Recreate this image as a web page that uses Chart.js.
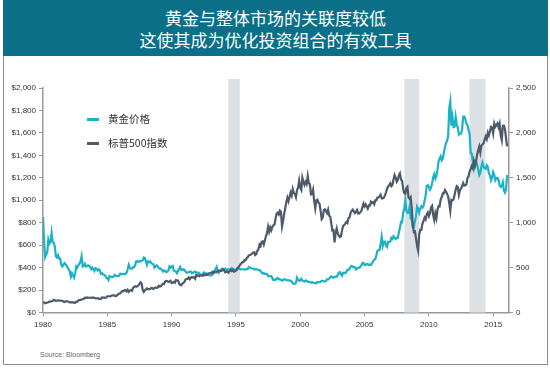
<!DOCTYPE html>
<html>
<head>
<meta charset="utf-8">
<script src="https://cdn.jsdelivr.net/npm/chart.js@4"></script>
<style>
  html, body { margin: 0; padding: 0; background: #fff; }
  body { width: 550px; height: 371px; position: relative; overflow: hidden; }
  #frame { position: absolute; left: 3px; top: 0; height: 365px; border: 1px solid #8c8c8c; box-sizing: border-box; width: 545px; }
  #banner { position: absolute; left: 3px; top: 0; width: 545px; height: 56px; background: #0c6f88; color: #fff;
            font-family: "Noto Sans CJK SC", sans-serif; font-size: 17px; line-height: 22px; text-align: center; padding-top: 7px; box-sizing: border-box; }
  #chartWrap { position: absolute; left: 0; top: 60px; width: 550px; height: 275px; }
  .leg { position: absolute; font-family: "Noto Sans CJK SC", sans-serif; font-size: 10.5px; color: #333; line-height: 14px; }
  .mark { position: absolute; width: 12px; height: 3px; }
  #source { position: absolute; left: 40px; top: 351px; font-family: "Liberation Sans", Arial, sans-serif; font-size: 7px; color: #666; }
</style>
</head>
<body>
<div id="frame"></div>
<div id="banner">黄金与整体市场的关联度较低<br>这使其成为优化投资组合的有效工具</div>
<div id="chartWrap"><canvas id="c" width="550" height="275"></canvas></div>
<div class="mark" style="left:87px;top:117.5px;background:#1bb2c6;"></div>
<div class="leg" style="left:108px;top:112px;">黄金价格</div>
<div class="mark" style="left:87px;top:141.5px;background:#4d5a6b;"></div>
<div class="leg" style="left:108px;top:136px;">标普500指数</div>
<div id="source">Source: Bloomberg</div>
<script>
// Monthly series starting January 1980
const startYear = 1980;
const seriesNames = ["黄金价格", "标普500指数"];
const goldPrice = [
  850,640,494,517,540,650,615,630,710,630,620,590,
  500,490,510,480,480,425,410,425,440,430,415,400,
  385,365,320,350,330,310,345,410,400,420,435,455,
  500,410,415,435,410,415,420,415,405,385,400,385,
  370,395,390,375,385,375,345,350,340,335,330,310,
  305,290,325,320,315,315,325,335,325,325,325,327,
  345,340,345,345,340,345,355,385,425,400,390,390,
  405,405,420,455,455,450,460,455,460,465,490,485,
  455,425,455,450,455,440,435,430,400,410,420,410,
  395,390,390,378,365,375,370,360,365,375,410,400,
  410,415,375,368,365,350,370,390,405,380,380,385,
  380,365,355,355,360,365,365,350,355,360,365,355,
  355,355,345,338,335,340,355,340,350,340,335,333,
  330,330,335,355,375,385,405,375,355,370,375,390,
  380,380,390,375,385,385,385,385,395,390,385,380,
  375,378,392,390,385,387,385,383,384,383,387,387,
  405,400,396,393,392,385,385,387,383,381,378,369,
  355,346,352,344,345,341,324,324,323,325,306,289,
  289,297,296,308,299,292,293,284,289,296,294,291,
  287,287,286,282,276,261,256,257,265,311,293,283,
  285,300,286,280,275,286,281,274,273,270,266,272,
  266,262,263,261,272,270,268,273,283,283,276,276,
  281,296,294,302,314,321,313,310,319,317,319,333,
  356,359,340,328,355,356,351,360,379,379,389,407,
  414,405,406,404,384,392,398,400,406,420,439,442,
  424,423,434,429,422,430,424,437,456,470,476,510,
  550,555,557,610,675,596,633,632,598,585,628,629,
  631,665,655,680,667,655,665,665,713,754,806,803,
  889,922,1000,909,888,890,939,839,829,760,760,816,
  858,943,924,890,928,946,934,949,996,1043,1127,1134,
  1118,1095,1113,1148,1205,1233,1193,1215,1271,1343,1370,1391,
  1356,1372,1424,1473,1510,1529,1572,1820,1880,1665,1739,1652,
  1656,1742,1673,1650,1585,1596,1594,1630,1745,1747,1722,1684,
  1671,1627,1593,1420,1414,1343,1287,1348,1349,1316,1275,1225,
  1244,1300,1336,1299,1287,1279,1311,1296,1239,1222,1176,1200,
  1250,1227,1179,1198,1199,1181,1131,1118,1125,1159,1086,1068,
  1097,1225
];
const sp500 = [
  114,114,102,106,111,114,122,122,125,127,141,136,
  130,131,136,133,133,131,131,123,116,122,126,123,
  120,113,112,116,112,110,107,120,120,134,139,141,
  145,148,153,164,162,168,163,164,166,164,166,165,
  163,157,159,160,151,153,151,167,166,166,164,167,
  180,181,181,180,190,192,191,188,182,190,202,211,
  212,227,239,236,247,251,236,253,231,244,249,242,
  274,284,292,288,290,304,319,336,322,252,230,247,
  257,268,259,261,262,274,272,262,272,279,274,278,
  297,289,295,310,321,318,346,351,349,340,346,353,
  329,332,340,331,361,358,356,323,306,304,322,330,
  344,367,375,375,390,371,388,395,388,392,375,417,
  409,413,404,415,415,408,424,414,418,419,431,436,
  439,443,452,440,450,451,448,464,459,468,462,466,
  482,467,446,451,457,444,458,475,463,472,454,459,
  470,487,501,515,533,545,562,562,584,582,605,616,
  636,640,645,654,669,671,640,652,687,705,757,741,
  786,791,757,801,848,885,954,899,947,915,955,970,
  980,1049,1102,1112,1091,1134,1121,957,1017,1099,1164,1229,
  1280,1238,1286,1335,1302,1373,1329,1320,1283,1363,1389,1469,
  1394,1366,1499,1452,1421,1455,1431,1518,1437,1429,1315,1320,
  1366,1240,1160,1249,1256,1224,1211,1134,1041,1060,1139,1148,
  1130,1107,1147,1077,1067,990,912,916,780,886,936,880,
  856,841,848,917,964,975,990,1008,996,1051,1058,1112,
  1131,1145,1126,1107,1121,1141,1102,1104,1115,1130,1174,1212,
  1181,1204,1181,1157,1192,1191,1234,1220,1229,1207,1249,1248,
  1280,1281,1295,1311,1270,1270,1277,1304,1336,1378,1401,1418,
  1438,1407,1421,1482,1531,1503,1455,1474,1527,1549,1481,1468,
  1379,1331,1323,1386,1400,1280,1267,1283,1165,969,896,903,
  826,740,690,873,919,919,987,1021,1057,1036,1096,1115,
  1074,1104,1169,1187,1089,1031,1102,1049,1141,1183,1181,1258,
  1286,1327,1326,1364,1345,1321,1292,1219,1131,1253,1247,1258,
  1312,1366,1408,1398,1310,1362,1379,1407,1441,1412,1416,1426,
  1498,1515,1569,1598,1631,1606,1686,1633,1682,1757,1806,1848,
  1783,1859,1872,1884,1924,1960,1931,2003,1972,2018,2068,2059,
  1995,2105,2068,2086,2107,2063,2104,1972,1920,2079,2080,2044,
  1940,1850
];
const xTickLabels = [1980, 1985, 1990, 1995, 2000, 2005, 2010, 2015];
const goldTicks = [0, 200, 400, 600, 800, 1000, 1200, 1400, 1600, 1800, 2000];
const spTicks = [0, 500, 1000, 1500, 2000, 2500];
const bandStarts = [1994.4, 2008.1, 2013.15];
const bandEnds = [1995.3, 2009.25, 2014.4];

const toPoints = arr => arr.map((v, i) => ({ x: startYear + i / 12, y: v }));

const bandsPlugin = {
  id: 'bands',
  beforeDatasetsDraw(chart) {
    const { ctx, chartArea, scales } = chart;
    ctx.save();
    ctx.fillStyle = '#dde1e6';
    for (let i = 0; i < bandStarts.length; i++) {
      const x1 = scales.x.getPixelForValue(bandStarts[i]);
      const x2 = scales.x.getPixelForValue(bandEnds[i]);
      ctx.fillRect(x1, chartArea.top - 9, x2 - x1, chartArea.bottom - chartArea.top + 9);
    }
    ctx.restore();
  }
};

const tickFont = { family: '"Liberation Sans", Arial, sans-serif', size: 8 };
const axisColor = '#9a9a9a';

new Chart(document.getElementById('c'), {
  type: 'line',
  data: {
    datasets: [
      { label: seriesNames[1], data: toPoints(sp500), yAxisID: 'y1', borderColor: '#4d5a6b', borderWidth: 2.2, pointRadius: 0, tension: 0, order: 0 },
      { label: seriesNames[0], data: toPoints(goldPrice), yAxisID: 'y', borderColor: '#1bb2c6', borderWidth: 2.2, pointRadius: 0, tension: 0, order: 1 }
    ]
  },
  options: {
    responsive: false,
    animation: false,
    devicePixelRatio: 1,
    layout: { padding: { top: 28, left: 0, right: 0, bottom: 0 } },
    plugins: { legend: { display: false }, tooltip: { enabled: false } },
    scales: {
      x: {
        type: 'linear', min: 1980, max: 2016.23, position: 'bottom',
        afterBuildTicks: s => { s.ticks = xTickLabels.map(v => ({ value: v })); },
        afterFit: s => { s.height = 22.5; },
        ticks: { callback: v => String(v), font: tickFont, color: '#333', padding: 3, maxRotation: 0, autoSkip: false },
        grid: { drawOnChartArea: false, tickLength: 4, color: axisColor },
        border: { color: axisColor, width: 1.5 }
      },
      y: {
        type: 'linear', position: 'left', min: 0, max: 2000,
        afterBuildTicks: s => { s.ticks = goldTicks.map(v => ({ value: v })); },
        afterFit: s => { s.width = 43; },
        ticks: { callback: v => '$' + v.toLocaleString('en-US'), font: tickFont, color: '#333', padding: 3, autoSkip: false },
        grid: { drawOnChartArea: false, tickLength: 4, color: axisColor },
        border: { color: axisColor, width: 1.5 }
      },
      y1: {
        type: 'linear', position: 'right', min: 0, max: 2500,
        afterBuildTicks: s => { s.ticks = spTicks.map(v => ({ value: v })); },
        afterFit: s => { s.width = 41; },
        ticks: { callback: v => v.toLocaleString('en-US'), font: tickFont, color: '#333', padding: 3, autoSkip: false },
        grid: { drawOnChartArea: false, tickLength: 4, color: axisColor },
        border: { color: axisColor, width: 1.5 }
      }
    }
  },
  plugins: [bandsPlugin]
});
</script>
</body>
</html>
